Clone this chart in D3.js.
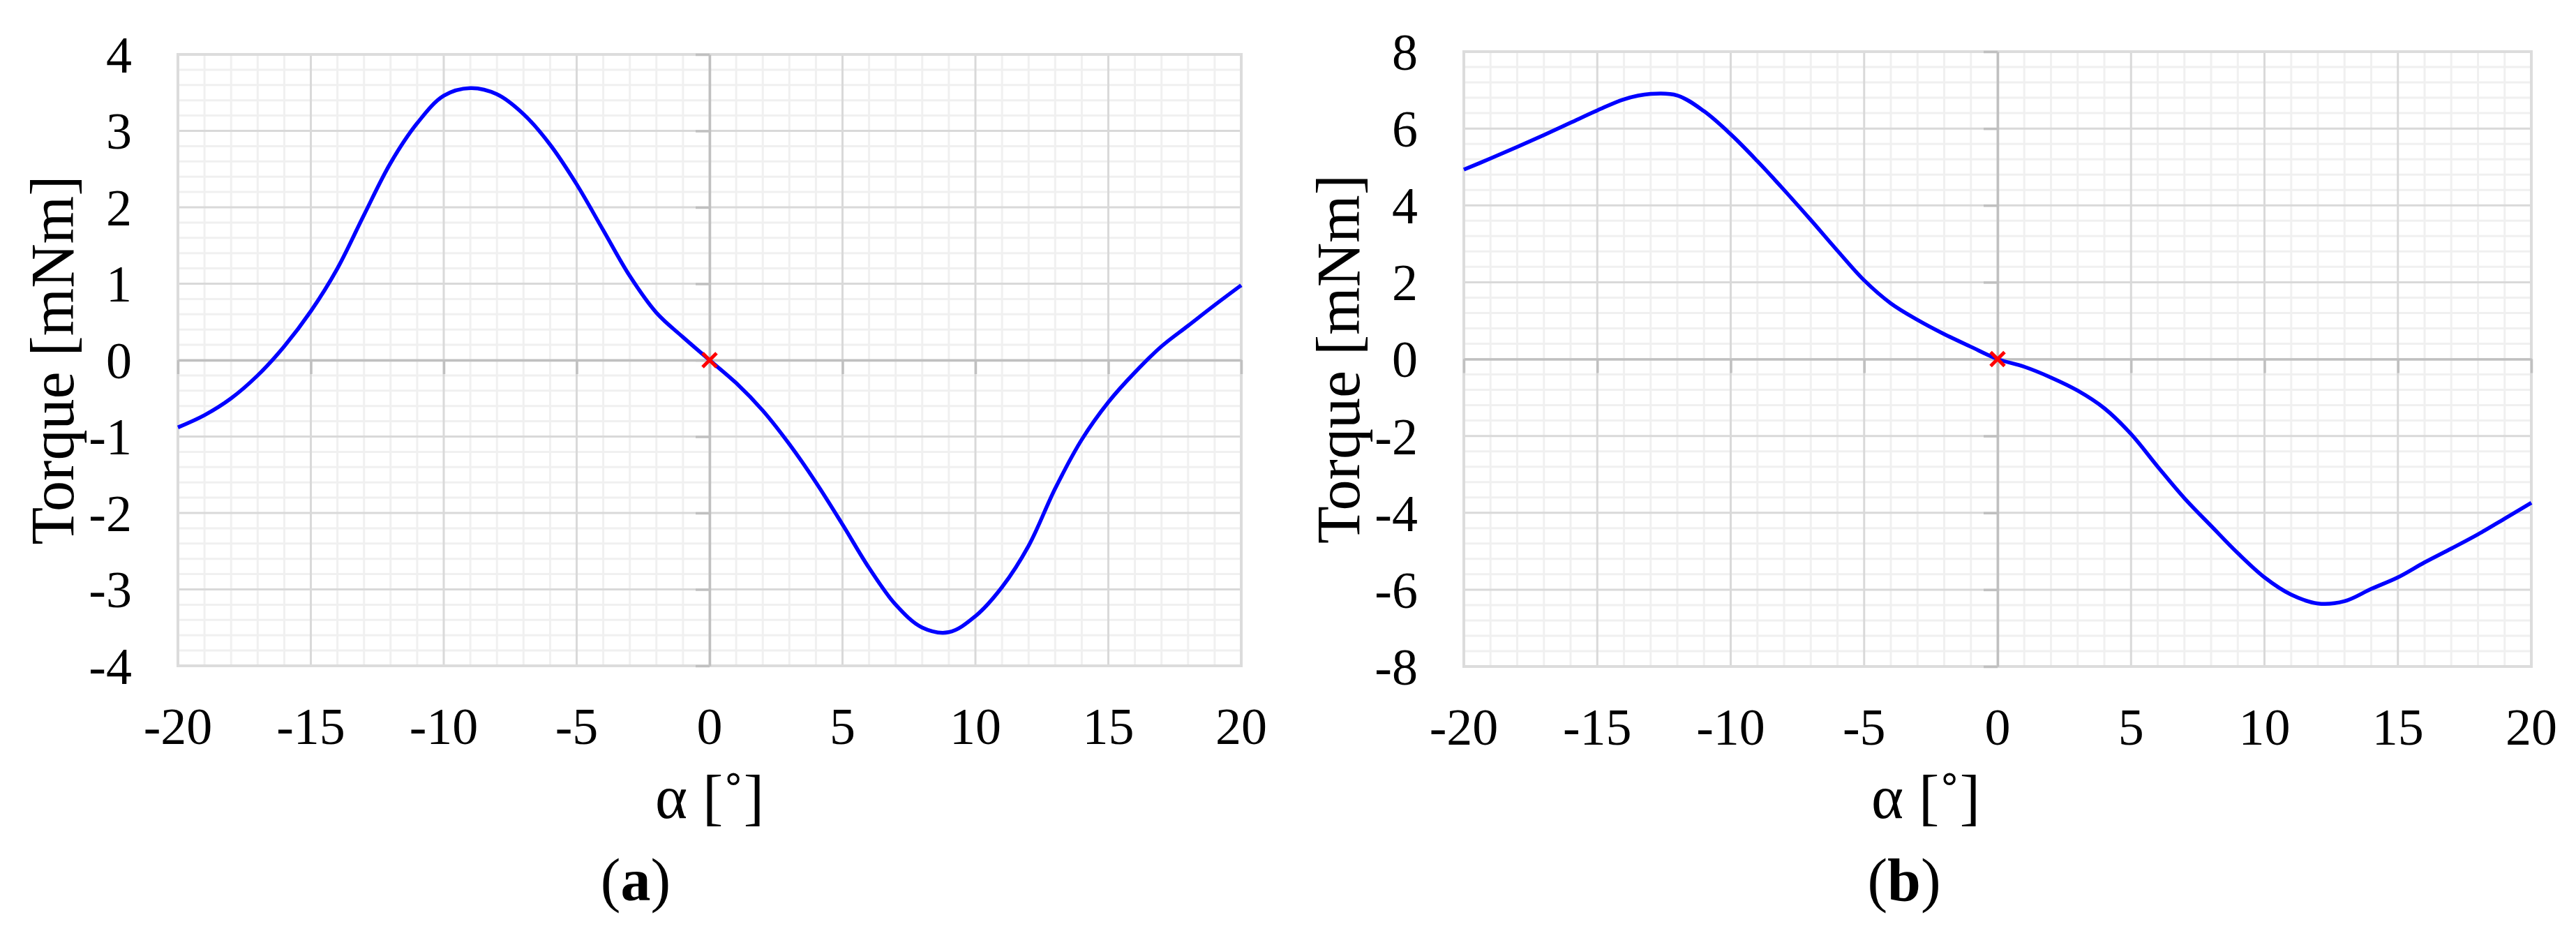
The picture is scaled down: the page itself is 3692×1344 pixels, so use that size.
<!DOCTYPE html>
<html><head><meta charset="utf-8">
<script src="https://cdn.jsdelivr.net/npm/d3@7"></script>
<style>html,body{margin:0;padding:0;background:#fff}svg{display:block}</style>
</head><body>
<svg id="chart" width="3692" height="1344"></svg>
<script>
// ---- data ----
const alphaDeg = [-20,-19,-18,-17,-16,-15,-14,-13,-12,-11,-10,-9,-8,-7,-6,-5,-4,-3,-2,-1,0,
                  1,2,3,4,5,6,7,8,9,10,11,12,13,14,15,16,17,18,19,20];
const torqueA = [-0.88,-0.72,-0.50,-0.20,0.18,0.64,1.20,1.90,2.58,3.10,3.46,3.56,3.48,3.22,2.82,2.30,1.70,1.10,0.62,0.30,0.00,
                 -0.30,-0.66,-1.10,-1.60,-2.15,-2.72,-3.20,-3.50,-3.56,-3.35,-2.97,-2.43,-1.68,-1.04,-0.55,-0.16,0.18,0.45,0.72,0.98];
const torqueB = [4.93,5.22,5.52,5.83,6.15,6.47,6.76,6.90,6.86,6.45,5.85,5.15,4.40,3.62,2.82,2.05,1.45,1.02,0.65,0.32,0.00,
                 -0.20,-0.48,-0.82,-1.28,-1.95,-2.80,-3.62,-4.34,-5.05,-5.68,-6.13,-6.36,-6.30,-5.98,-5.68,-5.29,-4.93,-4.56,-4.15,-3.74];
const xTicks = [-20,-15,-10,-5,0,5,10,15,20];
const yTicksA = [-4,-3,-2,-1,0,1,2,3,4];
const yTicksB = [-8,-6,-4,-2,0,2,4,6,8];
const markerPoint = [0,0];
const yTitle = "Torque [mNm]";
const xTitle = "\u03B1 [\u02DA]";
const panelLetters = ["a","b"];

// ---- drawing ----
const svg = d3.select("#chart");
const FONT = "'Liberation Serif','Times New Roman',serif";

function subdivide(ticks, n){
  const out = [];
  for(let i=0;i<ticks.length-1;i++){
    const a=ticks[i], b=ticks[i+1];
    for(let k=1;k<n;k++) out.push(a+(b-a)*k/n);
  }
  return out;
}

function panel(cfg){
  const g = svg.append("g");
  const x = d3.scaleLinear().domain([xTicks[0], xTicks[xTicks.length-1]]).range([cfg.L, cfg.R]);
  const y = d3.scaleLinear().domain([cfg.yTicks[0], cfg.yTicks[cfg.yTicks.length-1]]).range([cfg.B, cfg.T]);
  const xMinor = subdivide(xTicks,5);
  const yMinor = subdivide(cfg.yTicks,5);

  // minor grid
  g.append("g").selectAll("line").data(xMinor).join("line")
    .attr("x1",d=>x(d)).attr("x2",d=>x(d)).attr("y1",cfg.T).attr("y2",cfg.B)
    .attr("stroke","#f0f0f0").attr("stroke-width",3);
  g.append("g").selectAll("line").data(yMinor).join("line")
    .attr("y1",d=>y(d)).attr("y2",d=>y(d)).attr("x1",cfg.L).attr("x2",cfg.R)
    .attr("stroke","#f0f0f0").attr("stroke-width",3);
  // major grid
  g.append("g").selectAll("line").data(xTicks).join("line")
    .attr("x1",d=>x(d)).attr("x2",d=>x(d)).attr("y1",cfg.T).attr("y2",cfg.B)
    .attr("stroke","#d9d9d9").attr("stroke-width",3);
  g.append("g").selectAll("line").data(cfg.yTicks).join("line")
    .attr("y1",d=>y(d)).attr("y2",d=>y(d)).attr("x1",cfg.L).attr("x2",cfg.R)
    .attr("stroke","#d9d9d9").attr("stroke-width",3);
  // border
  g.append("rect").attr("x",cfg.L).attr("y",cfg.T).attr("width",cfg.R-cfg.L).attr("height",cfg.B-cfg.T)
    .attr("fill","none").attr("stroke","#dcdcdc").attr("stroke-width",4);

  // zero axes with ticks (d3 axes, labels hidden)
  const yAx = d3.axisLeft(y).tickValues(cfg.yTicks).tickSize(20).tickSizeOuter(0).tickFormat("");
  const yAxG = g.append("g").attr("transform",`translate(${x(0)},0)`).call(yAx);
  const xAx = d3.axisBottom(x).tickValues(xTicks).tickSize(20).tickSizeOuter(0).tickFormat("");
  const xAxG = g.append("g").attr("transform",`translate(0,${y(0)})`).call(xAx);
  [yAxG,xAxG].forEach(a=>{
    a.selectAll("path,line").attr("stroke","#c0c0c0").attr("stroke-width",3.5);
  });

  // tick labels
  g.append("g").selectAll("text").data(cfg.yTicks).join("text")
    .attr("x",cfg.L-66).attr("y",d=>y(d)).attr("dy","0.35em")
    .attr("text-anchor","end").attr("font-family",FONT).attr("font-size",74).attr("fill","#000")
    .text(d=>d);
  g.append("g").selectAll("text").data(xTicks).join("text")
    .attr("x",d=>x(d)).attr("y",cfg.B+112)
    .attr("text-anchor","middle").attr("font-family",FONT).attr("font-size",74).attr("fill","#000")
    .text(d=>d);

  // titles
  g.append("text").attr("transform",`translate(${cfg.L-150},${(cfg.T+cfg.B)/2}) rotate(-90)`)
    .attr("text-anchor","middle").attr("font-family",FONT).attr("font-size",88).attr("fill","#000")
    .text(yTitle);
  g.append("text").attr("x",cfg.xTitleX).attr("y",1172)
    .attr("text-anchor","middle").attr("font-family",FONT).attr("font-size",88).attr("fill","#000")
    .text(xTitle);
  const lab = g.append("text").attr("x",cfg.letterX).attr("y",1290)
    .attr("text-anchor","middle").attr("font-family",FONT).attr("font-size",86).attr("fill","#000");
  lab.append("tspan").text("(");
  lab.append("tspan").attr("font-weight","bold").text(cfg.letter);
  lab.append("tspan").text(")");

  // curve
  const line = d3.line().x((d,i)=>x(alphaDeg[i])).y(d=>y(d)).curve(d3.curveCatmullRom.alpha(0.5));
  g.append("path").datum(cfg.values).attr("d",line)
    .attr("fill","none").attr("stroke","#0000ff").attr("stroke-width",5.5)
    .attr("stroke-linejoin","round");

  // red cross marker
  const mx = x(markerPoint[0]), my = y(markerPoint[1]), s = 10;
  g.append("path").attr("d",`M${mx-s},${my-s}L${mx+s},${my+s}M${mx-s},${my+s}L${mx+s},${my-s}`)
    .attr("stroke","#ff0000").attr("stroke-width",5).attr("fill","none");
}

panel({L:255,T:78,R:1779,B:954,yTicks:yTicksA,values:torqueA,xTitleX:1017,letterX:911,letter:panelLetters[0]});
panel({L:2098,T:74,R:3628,B:955,yTicks:yTicksB,values:torqueB,xTitleX:2760,letterX:2729,letter:panelLetters[1]});
</script>
</body></html>
